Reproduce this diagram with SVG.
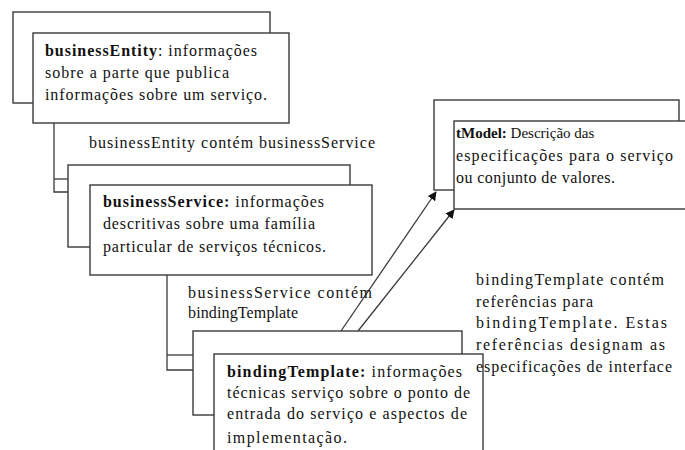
<svg xmlns="http://www.w3.org/2000/svg" width="685" height="450" viewBox="0 0 685 450">
<defs>
<style>
.box{fill:#fff;stroke:#3a3a3a;stroke-width:1.4}
.ln{fill:none;stroke:#3a3a3a;stroke-width:1.3}
.t{font-family:"Liberation Serif","Times New Roman",serif;font-size:16px;fill:#111}
.b{font-weight:bold}
</style>
<marker id="ah" viewBox="0 0 10 10" refX="9" refY="5" markerWidth="9" markerHeight="9" markerUnits="userSpaceOnUse" orient="auto">
<path d="M0,0 L10,5 L0,10 z" fill="#111"/>
</marker>
</defs>
<rect width="685" height="450" fill="#fff"/>
<g id="connectors">
<polyline class="ln" points="54,123 54,192 90,192"/>
<line class="ln" x1="54" y1="179" x2="68" y2="179"/>
<polyline class="ln" points="167,275 167,370 214,370"/>
<line class="ln" x1="167" y1="355" x2="193" y2="355"/>
<line class="ln" x1="341" y1="331" x2="436" y2="192" marker-end="url(#ah)"/>
<line class="ln" x1="358" y1="331" x2="454" y2="210" marker-end="url(#ah)"/>
</g>
<g id="businessEntity">
<rect class="box" x="13" y="12" width="257" height="91"/>
<rect class="box" x="33" y="33" width="256" height="90"/>
<text class="t" x="45" y="56" textLength="212" lengthAdjust="spacing"><tspan class="b">businessEntity</tspan>: informações</text>
<text class="t" x="45" y="78" textLength="184" lengthAdjust="spacing">sobre a parte que publica</text>
<text class="t" x="45" y="100" textLength="222" lengthAdjust="spacing">informações sobre um serviço.</text>
</g>
<g id="label-entity-service">
<text class="t" x="89" y="148" textLength="286" lengthAdjust="spacing">businessEntity contém businessService</text>
</g>
<g id="businessService">
<rect class="box" x="68" y="165" width="282" height="82"/>
<rect class="box" x="90" y="185" width="282" height="90"/>
<text class="t" x="103" y="207" textLength="221" lengthAdjust="spacing"><tspan class="b">businessService:</tspan> informações</text>
<text class="t" x="103" y="229" textLength="212" lengthAdjust="spacing">descritivas sobre uma família</text>
<text class="t" x="103" y="252" textLength="223" lengthAdjust="spacing">particular de serviços técnicos.</text>
</g>
<g id="label-service-binding">
<text class="t" x="188" y="298" textLength="184" lengthAdjust="spacing">businessService contém</text>
<text class="t" x="188" y="318" textLength="110" lengthAdjust="spacing">bindingTemplate</text>
</g>
<g id="bindingTemplate">
<rect class="box" x="193" y="331" width="269" height="84"/>
<rect class="box" x="214" y="354" width="269" height="110"/>
<text class="t" x="227" y="377" textLength="235" lengthAdjust="spacing"><tspan class="b">bindingTemplate:</tspan> informações</text>
<text class="t" x="227" y="398" textLength="243" lengthAdjust="spacing">técnicas serviço sobre o ponto de</text>
<text class="t" x="227" y="419" textLength="240" lengthAdjust="spacing">entrada do serviço e aspectos de</text>
<text class="t" x="227" y="443" textLength="120" lengthAdjust="spacing">implementação.</text>
</g>
<g id="tModel">
<rect class="box" x="434" y="100" width="245" height="90"/>
<rect class="box" x="454" y="121" width="240" height="88"/>
<text class="t" x="456" y="138" style="font-size:15px"><tspan class="b">tModel:</tspan> Descrição das</text>
<text class="t" x="456" y="161" textLength="217" lengthAdjust="spacing">especificações para o serviço</text>
<text class="t" x="456" y="183" textLength="159" lengthAdjust="spacing">ou conjunto de valores.</text>
</g>
<g id="label-binding-tmodel">
<text class="t" x="476" y="285" textLength="188" lengthAdjust="spacing">bindingTemplate contém</text>
<text class="t" x="476" y="307" textLength="117" lengthAdjust="spacing">referências para</text>
<text class="t" x="476" y="328" textLength="191" lengthAdjust="spacing">bindingTemplate. Estas</text>
<text class="t" x="476" y="350" textLength="189" lengthAdjust="spacing">referências designam as</text>
<text class="t" x="476" y="372" textLength="196" lengthAdjust="spacing">especificações de interface</text>
</g>
</svg>
